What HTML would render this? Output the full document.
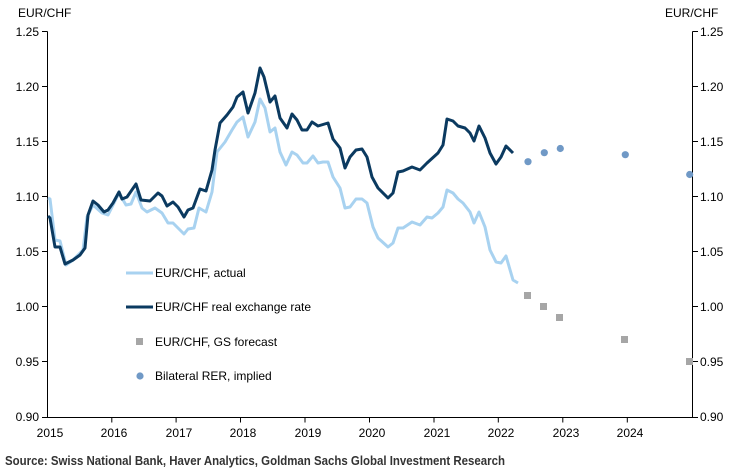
<!DOCTYPE html>
<html><head><meta charset="utf-8"><style>
html,body{margin:0;padding:0;background:#fff;}
svg{display:block;font-family:"Liberation Sans",sans-serif;}
</style></head><body>
<svg width="734" height="473" viewBox="0 0 734 473" xmlns="http://www.w3.org/2000/svg">
<g font-size="12" fill="#000">
<text x="18" y="17">EUR/CHF</text>
<text x="665" y="17">EUR/CHF</text>
<g text-anchor="end">
<text x="39" y="36">1.25</text><text x="39" y="91">1.20</text><text x="39" y="146">1.15</text><text x="39" y="201">1.10</text><text x="39" y="256">1.05</text><text x="39" y="311">1.00</text><text x="39" y="366">0.95</text><text x="39" y="421">0.90</text>
</g>
<g>
<text x="700" y="36">1.25</text><text x="700" y="91">1.20</text><text x="700" y="146">1.15</text><text x="700" y="201">1.10</text><text x="700" y="256">1.05</text><text x="700" y="311">1.00</text><text x="700" y="366">0.95</text><text x="700" y="421">0.90</text>
</g>
<g text-anchor="middle">
<text x="50" y="437">2015</text><text x="114" y="437">2016</text><text x="179" y="437">2017</text><text x="243" y="437">2018</text><text x="308" y="437">2019</text><text x="372" y="437">2020</text><text x="437" y="437">2021</text><text x="501" y="437">2022</text><text x="566" y="437">2023</text><text x="630" y="437">2024</text>
</g>
</g>
<g stroke="#000" stroke-width="1" fill="none">
<path d="M47.5 31.5V417.5M692.5 31.5V417.5M47.5 417.5H692.5"/>
<path d="M42 31.5h5.5M42 86.5h5.5M42 141.5h5.5M42 196.5h5.5M42 251.5h5.5M42 306.5h5.5M42 361.5h5.5M42 417.5h5.5"/>
<path d="M692.5 31.5h5.5M692.5 86.5h5.5M692.5 141.5h5.5M692.5 196.5h5.5M692.5 251.5h5.5M692.5 306.5h5.5M692.5 361.5h5.5M692.5 417.5h5.5"/>
<path d="M111.8 417.5v5M176.1 417.5v5M240.5 417.5v5M305 417.5v5M369.5 417.5v5M434 417.5v5M498.3 417.5v5M562.8 417.5v5M627.3 417.5v5"/>
</g>
<polyline fill="none" stroke="#a8d2f0" stroke-width="3" stroke-linejoin="round" points="48,198 50,199 55,240 60,241 66,265 73,260 83,250 87,217 93,205 102,213 108,215 119,193 126,205 131,204 136,192 142,208 147,212 155,208 162,213 168,223 173,223 184,234 188,229 194,228 199,208 206,212 212,192 216,160 217,152 225,142 232,130 237,122 243,117 248,137 255,122 260,99 265,108 270,132 275,128 280,152 286,165 292,152 297,155 303,163 307,163 313,156 318,163 323,162 328,162 333,177 340,188 345,208 350,207 356,199 362,199 367,203 373,227 378,238 388,247 393,243 398,228 403,228 412,222 420,225 427,217 432,218 438,213 443,207 447,190 453,193 458,199 463,203 470,212 474,223 479,212 485,227 490,250 496,262 501,263 506,256 513,280 518,283"/>
<polyline fill="none" stroke="#0b3a60" stroke-width="3" stroke-linejoin="round" points="48,216 50,218 55,247 60,247 65,264 73,260 80,255 85,248 88,215 93,201 98,205 104,212 108,210 113,203 119,192 122,199 127,197 136,184 141,200 150,201 158,193 162,196 167,206 173,202 178,207 184,217 188,210 193,208 200,189 206,191 212,170 215,150 220,123 227,115 233,107 237,97 243,92 248,113 255,93 260,68 264,77 270,102 275,96 280,118 287,128 292,114 297,120 302,130 307,130 312,122 318,126 328,123 333,139 340,148 345,168 350,157 356,150 362,149 367,157 372,177 378,188 388,198 393,193 398,172 403,171 412,167 420,170 427,163 438,153 443,145 447,119 453,121 458,126 465,128 470,133 474,141 479,126 485,138 490,153 496,164 501,157 506,146 513,153"/>
<g fill="#a6a6a6">
<rect x="524" y="292" width="7" height="7"/><rect x="540" y="303" width="7" height="7"/><rect x="556" y="314" width="7" height="7"/><rect x="621" y="336" width="7" height="7"/><rect x="686" y="358" width="7" height="7"/>
<rect x="136" y="338" width="7" height="7"/>
</g>
<g fill="#7099c6">
<circle cx="528" cy="161.7" r="3.6"/><circle cx="544.3" cy="152.7" r="3.6"/><circle cx="560.3" cy="148.5" r="3.6"/><circle cx="625.3" cy="154.7" r="3.6"/><circle cx="689.7" cy="174.5" r="3.6"/>
<circle cx="140" cy="376" r="3.6"/>
</g>
<line x1="126" y1="273" x2="153" y2="273" stroke="#a8d2f0" stroke-width="3"/>
<line x1="126" y1="307" x2="153" y2="307" stroke="#0b3a60" stroke-width="3"/>
<g font-size="12" fill="#000">
<text x="155" y="277">EUR/CHF, actual</text>
<text x="155" y="311">EUR/CHF real exchange rate</text>
<text x="155" y="346">EUR/CHF, GS forecast</text>
<text x="155" y="380">Bilateral RER, implied</text>
</g>
<text x="5" y="465" font-size="12.5" font-weight="bold" fill="#333" textLength="500" lengthAdjust="spacingAndGlyphs">Source: Swiss National Bank, Haver Analytics, Goldman Sachs Global Investment Research</text>
</svg>
</body></html>
